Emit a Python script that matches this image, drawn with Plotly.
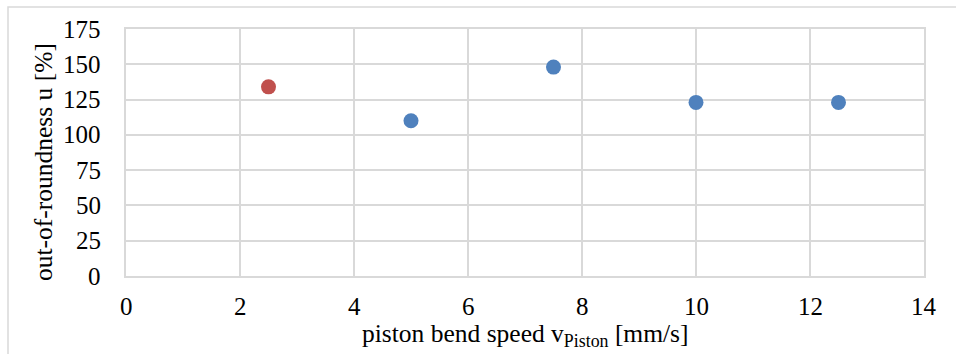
import plotly.graph_objects as go

# Measured out-of-roundness per piston bend speed
speed_ref = [2.5]
roundness_ref = [134]
speed = [5, 7.5, 10, 12.5]
roundness = [110, 148, 123, 123]

x_ticks = [0, 2, 4, 6, 8, 10, 12, 14]
y_ticks = [0, 25, 50, 75, 100, 125, 150, 175]

x_title = "piston bend speed v<sub>Piston</sub> [mm/s]"
y_title = "out-of-roundness u [%]"

W, H = 956, 354
L, R, T, B = 126, 32, 29, 78
pw, ph = W - L - R, H - T - B


def px_x(px):
    """Horizontal pixel position -> paper coordinate."""
    return (px - L) / pw


def px_y(py):
    """Vertical pixel position (from top) -> paper coordinate."""
    return (T + ph - py) / ph


family = "Liberation Serif, DejaVu Serif, serif"
label_font = dict(family=family, color="#000000", size=25)
title_font = dict(family=family, color="#000000", size=25.5)
grid = "#D9D9D9"

fig = go.Figure()
fig.add_trace(go.Scatter(x=speed_ref, y=roundness_ref, mode="markers",
                         marker=dict(size=15, color="#C0504D"), showlegend=False))
fig.add_trace(go.Scatter(x=speed, y=roundness, mode="markers",
                         marker=dict(size=15, color="#4F81BD"), showlegend=False))

annotations = []
# x tick labels sit under each vertical gridline
for v in x_ticks:
    annotations.append(dict(x=v, xref="x", y=px_y(306), yref="paper",
                            text=str(v), showarrow=False, font=label_font,
                            xanchor="center", yanchor="middle"))
# y tick labels, right-aligned left of the plot area
for v in y_ticks:
    annotations.append(dict(x=px_x(103), xref="paper", y=v, yref="y",
                            text=str(v), showarrow=False, font=label_font,
                            xanchor="right", yanchor="middle"))
# axis titles
annotations.append(dict(x=px_x(525.5), xref="paper", y=px_y(335), yref="paper",
                        text=x_title, showarrow=False, font=title_font,
                        xanchor="center", yanchor="middle"))
annotations.append(dict(x=px_x(43), xref="paper", y=px_y(162), yref="paper",
                        text=y_title, showarrow=False, font=title_font,
                        textangle=-90, xanchor="center", yanchor="middle"))

axis_style = dict(showgrid=True, gridcolor=grid, gridwidth=1.5,
                  showline=True, linecolor=grid, linewidth=1.5, mirror=True,
                  zeroline=False, ticks="", showticklabels=False)

fig.update_layout(
    template="none",
    width=W, height=H,
    margin=dict(l=L, r=R, t=T, b=B),
    paper_bgcolor="white", plot_bgcolor="white",
    font=dict(family=family, color="#000000", size=24),
    xaxis=dict(range=[0, 14], tickmode="array", tickvals=x_ticks, **axis_style),
    yaxis=dict(range=[0, 175], tickmode="array", tickvals=y_ticks, **axis_style),
    annotations=annotations,
    shapes=[dict(type="rect", xref="paper", yref="paper",
                 x0=px_x(8), x1=px_x(W + 10), y0=px_y(H + 10), y1=px_y(7),
                 line=dict(color="#D9D9D9", width=1.5), layer="below")],
)

fig.write_html("out.html")
